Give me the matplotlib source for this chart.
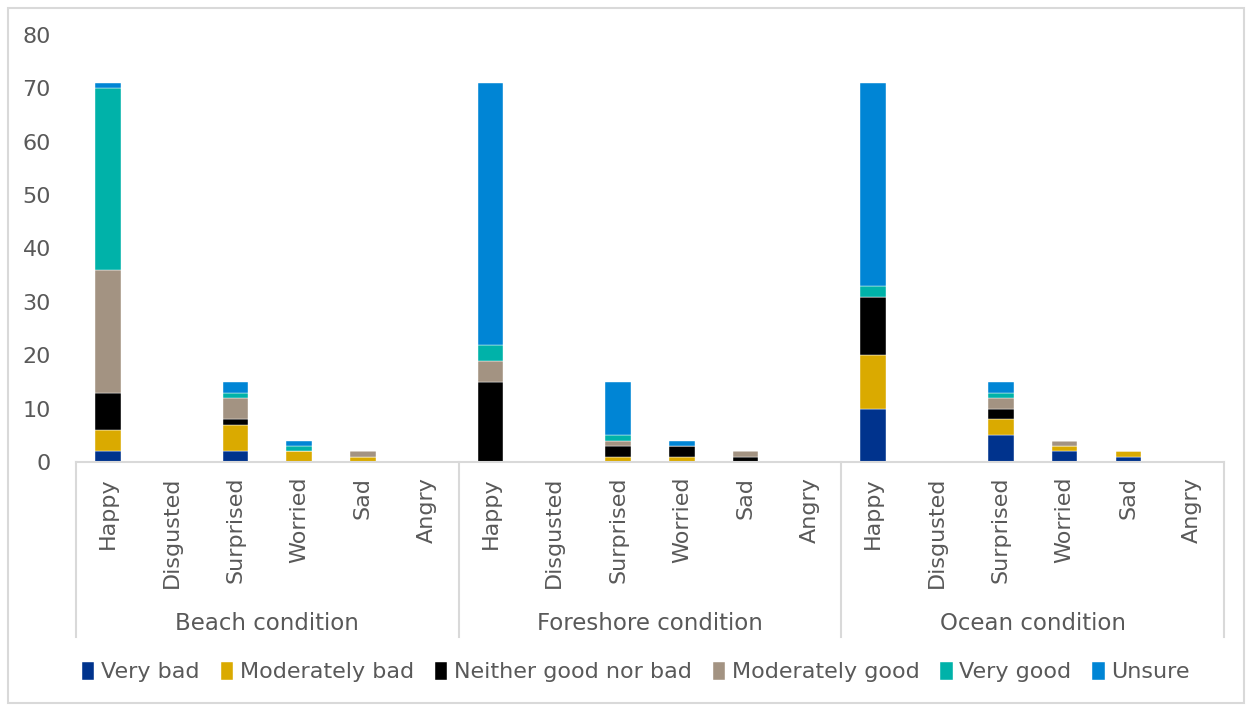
import matplotlib
matplotlib.use("Agg")
import matplotlib.pyplot as plt
import matplotlib.transforms as mtransforms
from matplotlib.patches import Rectangle
import numpy as np

plt.rcParams['font.family'] = ['DejaVu Sans']

groups = ["Beach condition", "Foreshore condition", "Ocean condition"]
emotions = ["Happy", "Disgusted", "Surprised", "Worried", "Sad", "Angry"]
series = ["Very bad", "Moderately bad", "Neither good nor bad",
          "Moderately good", "Very good", "Unsure"]
colors = ["#00338D", "#DAAA00", "#000000", "#A39382", "#00B2A9", "#0085D5"]

# counts per group, in emotion order
very_bad = [2, 0, 2, 0, 0, 0,
            0, 0, 0, 0, 0, 0,
            10, 0, 5, 2, 1, 0]
moderately_bad = [4, 0, 5, 2, 1, 0,
                  0, 0, 1, 1, 0, 0,
                  10, 0, 3, 1, 1, 0]
neither = [7, 0, 1, 0, 0, 0,
           15, 0, 2, 2, 1, 0,
           11, 0, 2, 0, 0, 0]
moderately_good = [23, 0, 4, 0, 1, 0,
                   4, 0, 1, 0, 1, 0,
                   0, 0, 2, 1, 0, 0]
very_good = [34, 0, 1, 1, 0, 0,
             3, 0, 1, 0, 0, 0,
             2, 0, 1, 0, 0, 0]
unsure = [1, 0, 2, 1, 0, 0,
          49, 0, 10, 1, 0, 0,
          38, 0, 2, 0, 0, 0]

values = [very_bad, moderately_bad, neither, moderately_good, very_good, unsure]

text_color = "#595959"
line_color = "#D9D9D9"
fs = 16

fig = plt.figure(figsize=(12.51, 7.09), dpi=100)
ax = fig.add_axes([76 / 1251, 1 - 462 / 709, (1224 - 76) / 1251, (462 - 35) / 709])

n = len(groups) * len(emotions)
x = np.arange(n)
bottom = np.zeros(n)
for name, vals, c in zip(series, values, colors):
    v = np.array(vals, dtype=float)
    ax.bar(x, v, width=0.4, bottom=bottom, color=c, label=name,
           edgecolor="white", linewidth=0.3)
    bottom += v

ax.set_xlim(-0.5, n - 0.5)
ax.set_ylim(0, 80)
ax.set_yticks(range(0, 81, 10))
ax.tick_params(axis="y", length=0, pad=18, labelsize=fs, labelcolor=text_color)
ax.set_xticks([])
for side in ["left", "right", "top"]:
    ax.spines[side].set_visible(False)
ax.spines["bottom"].set_color(line_color)
ax.spines["bottom"].set_linewidth(1.5)

trans = mtransforms.blended_transform_factory(ax.transData, ax.transAxes)
bottom_axes = -(637 - 462) / (462 - 35)

# category labels, rotated
for i in range(n):
    ax.text(x[i], -0.035, emotions[i % len(emotions)], rotation=90,
            ha="center", va="top", fontsize=fs, color=text_color,
            transform=trans)

# group separators and group names
for b in np.arange(-0.5, n, len(emotions)):
    ax.plot([b, b], [0, bottom_axes], transform=trans, color=line_color,
            lw=1.5, clip_on=False)
for gi, g in enumerate(groups):
    cx = gi * len(emotions) + (len(emotions) - 1) / 2
    ax.text(cx, -(623 - 462) / (462 - 35), g, ha="center", va="center",
            fontsize=16.5, color=text_color, transform=trans)

leg = fig.legend(loc="center", bbox_to_anchor=(636 / 1251, 1 - 672 / 709),
                 ncol=6, frameon=False, fontsize=fs, handlelength=0.55,
                 handleheight=0.9, handletextpad=0.3, columnspacing=0.95,
                 labelcolor=text_color)

# outer chart frame
fig.patches.append(Rectangle((8 / 1251, 6 / 709), (1244 - 8) / 1251,
                             (703 - 8) / 709, transform=fig.transFigure,
                             fill=False, edgecolor=line_color, lw=1.5))

fig.savefig("out.png", dpi=100, facecolor="white")
